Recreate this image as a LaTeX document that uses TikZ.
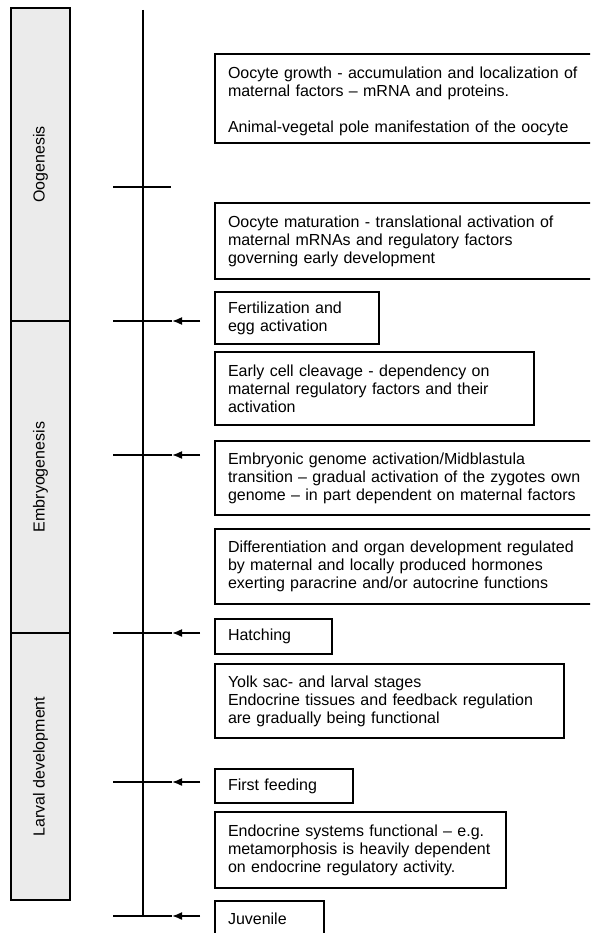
\documentclass[tikz,border=0pt]{standalone}
\usepackage{fontspec}
\setmainfont{Liberation Sans}
\usetikzlibrary{arrows.meta}
\definecolor{bargray}{HTML}{EBEBEB}
\tikzset{
  txt/.style={font=\fontsize{16}{18}\selectfont},
  stagebox/.style={draw=black, line width=2pt, fill=white, anchor=north west,
    inner xsep=13pt, inner ysep=0pt, align=left, txt},
  phasebar/.style={draw=black, line width=2pt, fill=bargray},
  phaselabel/.style={rotate=90, txt},
  axis/.style={line width=1.2pt},
  tick/.style={line width=1.6pt},
  pointer/.style={line width=1.6pt, -{Latex[length=10pt,width=8pt]}},
}
\begin{document}
\begin{tikzpicture}[x=1pt,y=-1pt]
\useasboundingbox (0,0) rectangle (590,933);
\clip (0,0) rectangle (590,933);
\fill[white] (0,0) rectangle (590,933);

% phase bars
\draw[phasebar] (11,8) rectangle (70,321);
\draw[phasebar] (11,321) rectangle (70,633);
\draw[phasebar] (11,633) rectangle (70,900);
\node[phaselabel] (oog) at (40.5,164.5) {Oogenesis};
\node[phaselabel] (emb) at (40.5,477) {Embryogenesis};
\node[phaselabel] (lar) at (40.5,766.5) {Larval development};

% time axis
\coordinate (axtop) at (143,10);
\coordinate (axbot) at (143,916);
\draw[axis] (axtop) -- (axbot);

% ticks
\coordinate (t0a) at (113,187); \coordinate (t0b) at (171,187);
\draw[tick] (t0a) -- (t0b);

\foreach \n/\y in {t1/321, t2/455, t3/633, t4/782, t5/916}{
  \coordinate (\n a) at (113,\y);
  \coordinate (\n m) at (172,\y);
  \coordinate (\n b) at (200,\y);
  \draw[tick] (\n a) -- (\n m);
  \draw[pointer] (\n b) -- (\n m);
}

% boxes
\node[stagebox, text width=360pt, minimum height=89pt] (b1) at (214,53)
  {\rule{0pt}{17pt}Oocyte growth - accumulation and localization of\\
   maternal factors -- mRNA and proteins.\\[18pt]
   Animal-vegetal pole manifestation of the oocyte};
\node[stagebox, text width=360pt, minimum height=76pt] (b2) at (214,202)
  {Oocyte maturation - translational activation of\\
   maternal mRNAs and regulatory factors\\
   governing early development};
\node[stagebox, text width=138pt, minimum height=52pt] (b3) at (214,291)
  {Fertilization and\\ egg activation};
\node[stagebox, text width=293pt, minimum height=73pt] (b4) at (214,351)
  {Early cell cleavage - dependency on\\
   maternal regulatory factors and their\\
   activation};
\node[stagebox, text width=360pt, minimum height=74pt] (b5) at (214,440)
  {Embryonic genome activation/Midblastula\\
   transition -- gradual activation of the zygotes own\\
   genome -- in part dependent on maternal factors};
\node[stagebox, text width=360pt, minimum height=75pt] (b6) at (214,528)
  {Differentiation and organ development regulated\\
   by maternal and locally produced hormones\\
   exerting paracrine and/or autocrine functions};
\node[stagebox, text width=91pt, minimum height=35pt] (b7) at (214,618)
  {Hatching};
\node[stagebox, text width=323pt, minimum height=74pt] (b8) at (214,663)
  {Yolk sac- and larval stages\\
   Endocrine tissues and feedback regulation\\
   are gradually being functional};
\node[stagebox, text width=112pt, minimum height=34pt] (b9) at (214,768)
  {First feeding};
\node[stagebox, text width=265pt, minimum height=76pt] (b10) at (214,811)
  {Endocrine systems functional -- e.g.\\
   metamorphosis is heavily dependent\\
   on endocrine regulatory activity.};
\node[stagebox, text width=83pt, minimum height=35pt] (b11) at (214,900)
  {Juvenile};
\end{tikzpicture}
\end{document}
